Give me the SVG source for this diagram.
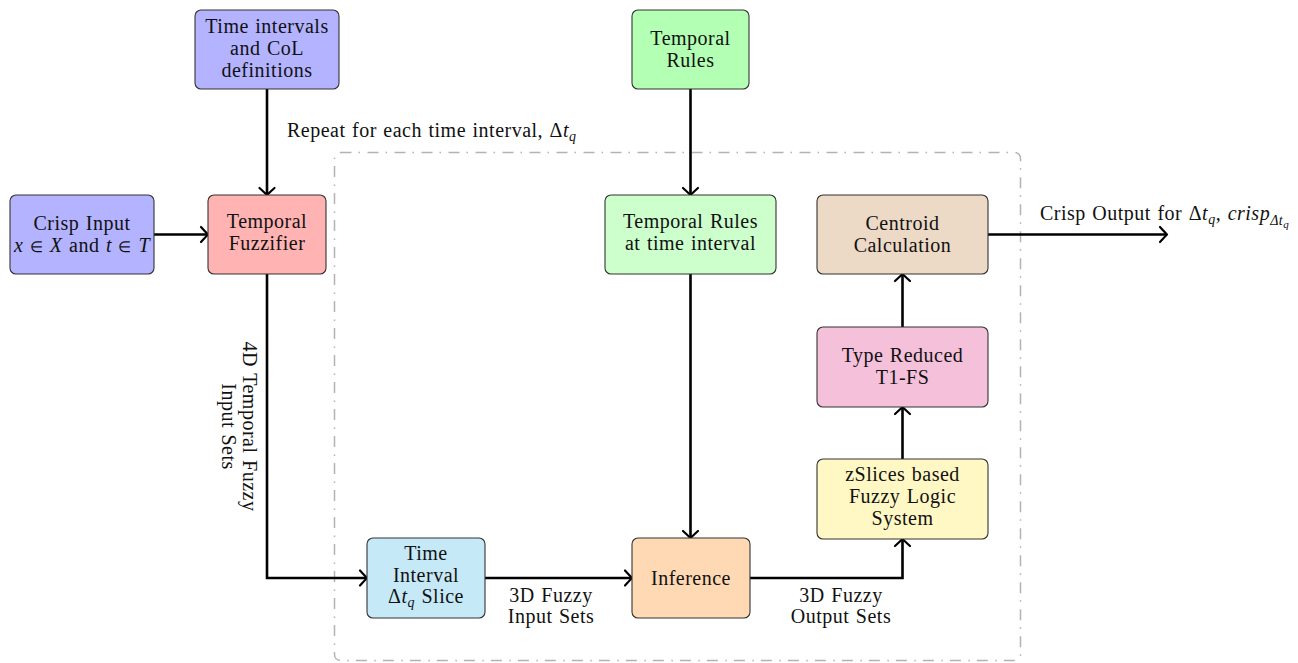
<svg xmlns="http://www.w3.org/2000/svg" width="1298" height="663" viewBox="0 0 1298 663">
<style>
  text { font-family: "Liberation Serif", "Times New Roman", serif; font-size: 20px; fill: #111; letter-spacing: 0.5px; word-spacing: 1px; }
  .c { text-anchor: middle; }
  .box { stroke: #333; stroke-width: 1.1; }
  .edge { fill: none; stroke: #000; stroke-width: 2.6; }
  .it { font-style: italic; }
  .sub { font-size: 14px; font-style: italic; }
  .subsub { font-size: 11px; font-style: italic; }
</style>
<defs>
  <marker id="arr" markerUnits="userSpaceOnUse" viewBox="-10 -10 14 20" refX="-1" refY="0" markerWidth="14" markerHeight="20" orient="auto" overflow="visible">
    <path d="M -7,-7.5 Q -1.5,-1.5 0,0 Q -1.5,1.5 -7,7.5" fill="none" stroke="#000" stroke-width="2.2" stroke-linecap="round" stroke-linejoin="round"/>
  </marker>
</defs>
<rect width="1298" height="663" fill="#fff"/>

<g id="loop-region">
  <rect x="334.5" y="152.5" width="686" height="508" rx="6" fill="none" stroke="#b3b3b3" stroke-width="1.5" stroke-dasharray="11 7 1.5 7.5"/>
  <text x="287" y="137">Repeat for each time interval, Δ<tspan class="it">t</tspan><tspan class="sub" dy="4">q</tspan></text>
</g>

<g id="connectors">
  <path class="edge" d="M267,89 V194" marker-end="url(#arr)"/>
  <path class="edge" d="M154,234.5 H207" marker-end="url(#arr)"/>
  <path class="edge" d="M267,274 V578 H366" marker-end="url(#arr)"/>
  <path class="edge" d="M485,578 H631" marker-end="url(#arr)"/>
  <path class="edge" d="M690.5,89 V194" marker-end="url(#arr)"/>
  <path class="edge" d="M690.5,274 V537" marker-end="url(#arr)"/>
  <path class="edge" d="M750,578 H902.5 V540" marker-end="url(#arr)"/>
  <path class="edge" d="M902.5,459 V408" marker-end="url(#arr)"/>
  <path class="edge" d="M902.5,327 V275" marker-end="url(#arr)"/>
  <path class="edge" d="M988,234.5 H1166" marker-end="url(#arr)"/>
  <g id="edge-labels">
    <text transform="translate(243,426.5) rotate(90)" class="c">4D Temporal Fuzzy<tspan x="0" dy="21">Input Sets</tspan></text>
    <text x="551" y="602" class="c">3D Fuzzy<tspan x="551" dy="21">Input Sets</tspan></text>
    <text x="841" y="602" class="c">3D Fuzzy<tspan x="841" dy="21">Output Sets</tspan></text>
    <text x="1040" y="220">Crisp Output for Δ<tspan class="it">t</tspan><tspan class="sub" dy="4">q</tspan><tspan dy="-4">, </tspan><tspan class="it">crisp</tspan><tspan class="sub" dy="5">Δ<tspan class="it">t</tspan></tspan><tspan class="subsub" dy="3">q</tspan></text>
  </g>
</g>

<g id="node-time-intervals">
  <rect class="box" x="195" y="10" width="144" height="79" rx="6" fill="#b3b3ff"/>
  <text class="c" x="267" y="33">Time intervals<tspan x="267" dy="22">and CoL</tspan><tspan x="267" dy="22">definitions</tspan></text>
</g>

<g id="node-crisp-input">
  <rect class="box" x="10" y="195" width="144" height="79" rx="6" fill="#b3b3ff"/>
  <text class="c" x="82" y="230">Crisp Input</text>
  <text class="c" x="82" y="252"><tspan class="it">x</tspan> <tspan font-size="15">∈</tspan> <tspan class="it">X</tspan> and <tspan class="it">t</tspan> <tspan font-size="15">∈</tspan> <tspan class="it">T</tspan></text>
</g>

<g id="node-temporal-fuzzifier">
  <rect class="box" x="208" y="195" width="118" height="79" rx="6" fill="#ffb3b3"/>
  <text class="c" x="267" y="228">Temporal<tspan x="267" dy="22">Fuzzifier</tspan></text>
</g>

<g id="node-temporal-rules">
  <rect class="box" x="632" y="10" width="117" height="79" rx="6" fill="#b3ffb3"/>
  <text class="c" x="690.5" y="45">Temporal<tspan x="690.5" dy="22">Rules</tspan></text>
</g>

<g id="node-rules-at-interval">
  <rect class="box" x="605" y="195" width="171" height="79" rx="6" fill="#ccffcc"/>
  <text class="c" x="690.5" y="228">Temporal Rules<tspan x="690.5" dy="22">at time interval</tspan></text>
</g>

<g id="node-centroid">
  <rect class="box" x="817" y="195" width="171" height="79" rx="6" fill="#ecd9c6"/>
  <text class="c" x="902.5" y="230">Centroid<tspan x="902.5" dy="22">Calculation</tspan></text>
</g>

<g id="node-type-reduced">
  <rect class="box" x="817" y="327" width="171" height="80" rx="6" fill="#f5c0da"/>
  <text class="c" x="902.5" y="362">Type Reduced<tspan x="902.5" dy="22">T1-FS</tspan></text>
</g>

<g id="node-zslices">
  <rect class="box" x="817" y="459" width="171" height="80" rx="6" fill="#fff8c4"/>
  <text class="c" x="902.5" y="481">zSlices based<tspan x="902.5" dy="22">Fuzzy Logic</tspan><tspan x="902.5" dy="22">System</tspan></text>
</g>

<g id="node-slice">
  <rect class="box" x="367" y="538" width="118" height="80" rx="6" fill="#c6e9f8"/>
  <text class="c" x="426" y="560">Time<tspan x="426" dy="22">Interval</tspan></text>
  <text class="c" x="426" y="603">Δ<tspan class="it">t</tspan><tspan class="sub" dy="4">q</tspan><tspan dy="-4"> Slice</tspan></text>
</g>

<g id="node-inference">
  <rect class="box" x="632" y="538" width="118" height="80" rx="6" fill="#ffd9b3"/>
  <text class="c" x="691" y="585">Inference</text>
</g>
</svg>
